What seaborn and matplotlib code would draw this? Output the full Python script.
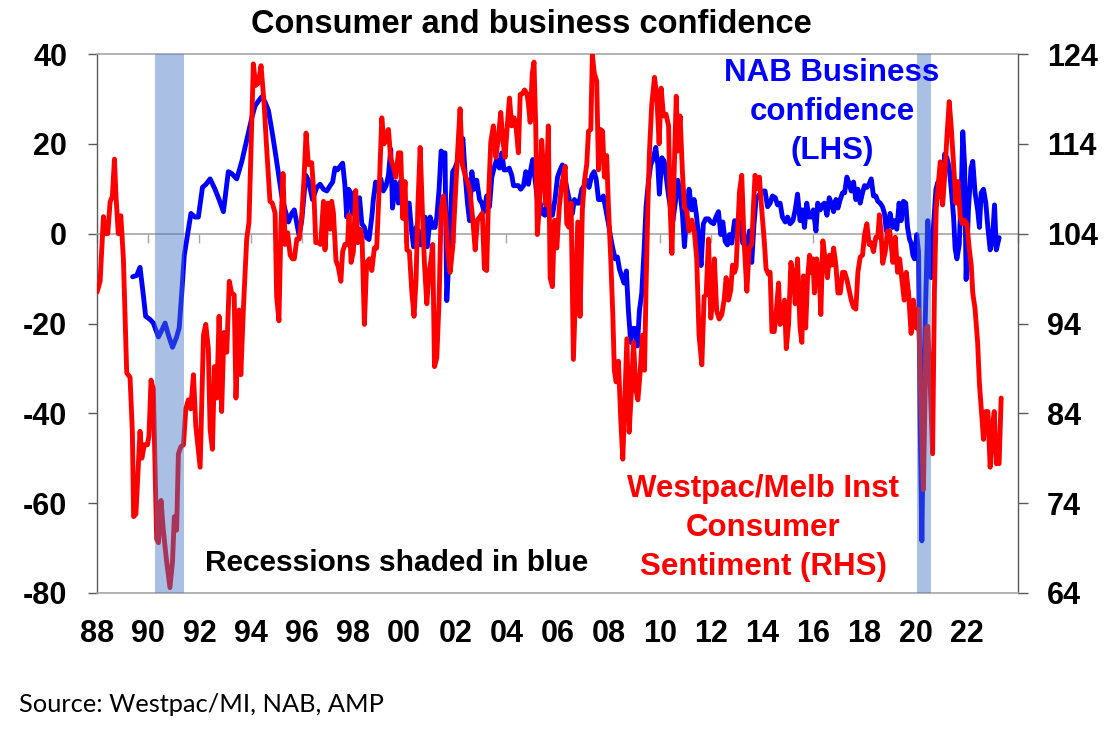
import numpy as np
import pandas as pd
import matplotlib
matplotlib.use('Agg')
import matplotlib.pyplot as plt
import seaborn as sns

# NAB business confidence, net balance (LHS)
nab_year_a = [1989.39, 1989.55, 1989.68, 1989.81, 1989.90, 1990.07, 1990.20, 1990.40, 1990.53, 1990.66,
              1990.79, 1990.95, 1991.11, 1991.21, 1991.31, 1991.41, 1991.54, 1991.67, 1991.83, 1991.96,
              1992.12, 1992.26, 1992.42, 1992.61, 1992.77, 1992.94, 1993.13, 1993.26, 1993.46, 1993.66,
              1993.85, 1994.05, 1994.18, 1994.33, 1994.44, 1994.57, 1994.70, 1994.83, 1994.96, 1995.09,
              1995.22, 1995.35, 1995.48, 1995.61, 1995.71, 1995.81, 1995.90, 1996.00, 1996.16, 1996.26,
              1996.42, 1996.59, 1996.72, 1996.85, 1996.98]
nab_conf_a = [-9.6, -9.3, -7.5, -13.7, -18.4, -19.1, -19.9, -23.0, -21.5, -19.9,
              -22.6, -25.3, -23.0, -21.0, -13.3, -4.8, -0.2, 4.5, 3.7, 3.7,
              10.3, 11.0, 12.2, 9.9, 7.6, 4.9, 13.8, 13.4, 12.2, 16.1,
              20.8, 25.8, 28.5, 29.7, 30.5, 29.3, 27.4, 23.1, 18.4, 13.4,
              8.4, 5.3, 2.6, 4.5, 5.3, 2.2, -0.5, 2.9, 13.0, 11.9,
              7.6, 10.3, 11.0, 9.9, 9.5]

nab_year_b = [1997.11, 1997.21, 1997.30, 1997.40, 1997.50, 1997.60, 1997.69, 1997.76, 1997.83, 1997.92,
              1997.99, 1998.09, 1998.18, 1998.26, 1998.35, 1998.45, 1998.54, 1998.63, 1998.74, 1998.80,
              1998.89, 1999.00, 1999.09, 1999.19, 1999.30, 1999.39, 1999.48, 1999.55, 1999.65, 1999.71,
              1999.78, 1999.88, 1999.98, 2000.08, 2000.20, 2000.28, 2000.37, 2000.47, 2000.56, 2000.65,
              2000.76, 2000.82, 2000.91, 2001.02, 2001.12, 2001.21, 2001.28, 2001.37, 2001.45, 2001.54,
              2001.60, 2001.67, 2001.74, 2001.83, 2001.90, 2001.99, 2002.09, 2002.19, 2002.30, 2002.39,
              2002.48, 2002.56, 2002.65, 2002.74, 2002.84, 2002.95, 2003.04, 2003.13, 2003.23, 2003.34,
              2003.43, 2003.52, 2003.62, 2003.73, 2003.82, 2003.91, 2004.02, 2004.11, 2004.21, 2004.28,
              2004.38, 2004.47, 2004.56, 2004.67, 2004.76, 2004.86, 2004.95, 2005.03, 2005.12, 2005.21,
              2005.32, 2005.41, 2005.51, 2005.61, 2005.71, 2005.80, 2005.90, 2006.00, 2006.10, 2006.19]
nab_conf_b = [10.7, 11.5, 14.6, 14.2, 15.0, 15.7, 10.7, 3.7, 9.9, 9.1,
              4.5, 8.4, 6.0, 8.0, 2.2, 1.4, -0.9, -1.3, 3.7, 7.6,
              11.5, 9.5, 12.2, 9.5, 10.7, 13.0, 18.8, 5.7, 11.5, 10.3,
              6.8, 11.9, 7.6, 6.8, 6.8, 1.4, -2.9, 1.4, 0.6, -2.5,
              1.4, 3.7, -2.9, 3.7, 1.4, 1.4, 3.7, 9.9, 18.4, 17.7,
              18.0, -14.9, -7.1, 6.0, 13.8, 14.6, 16.1, 18.4, 21.2, 13.0,
              6.8, 2.9, 13.8, 9.9, 11.9, 7.6, 6.8, 4.9, 8.4, 6.0,
              12.6, 14.6, 16.5, 14.6, 18.0, 14.2, 14.2, 14.6, 13.0, 10.7,
              10.7, 10.7, 9.9, 10.7, 13.8, 11.0, 14.2, 16.5, 12.2, 7.6,
              6.8, 4.5, 4.1, 7.6, 5.3, 4.1, 7.6, 12.6, 14.2, 15.3]

nab_year_c = [2006.40, 2006.49, 2006.58, 2006.66, 2006.75, 2006.84, 2006.95, 2007.05, 2007.14, 2007.23,
              2007.34, 2007.43, 2007.51, 2007.60, 2007.70, 2007.79, 2007.89, 2007.99, 2008.08, 2008.16,
              2008.25, 2008.34, 2008.42, 2008.51, 2008.60, 2008.69, 2008.77, 2008.86, 2008.94, 2009.03,
              2009.12, 2009.20, 2009.29, 2009.38, 2009.46, 2009.55, 2009.64, 2009.75, 2009.84, 2009.92,
              2009.98, 2010.08, 2010.17, 2010.24, 2010.34, 2010.43, 2010.51, 2010.60, 2010.70, 2010.79,
              2010.88, 2010.96, 2011.05, 2011.14, 2011.25, 2011.34, 2011.42, 2011.51, 2011.61, 2011.70,
              2011.79, 2011.90, 2011.99, 2012.10, 2012.19, 2012.29, 2012.38, 2012.46, 2012.55, 2012.64,
              2012.72, 2012.81, 2012.92, 2013.01, 2013.07, 2013.16, 2013.24, 2013.33, 2013.42, 2013.50,
              2013.59, 2013.68, 2013.76, 2013.85, 2013.94, 2014.02, 2014.11, 2014.21, 2014.31, 2014.40,
              2014.51, 2014.60, 2014.70, 2014.79, 2014.90, 2014.99, 2015.09, 2015.20, 2015.29, 2015.38]
nab_conf_c = [9.1, 6.8, 4.5, 7.6, 6.8, 6.8, 9.9, 10.7, 11.9, 10.3,
              13.0, 13.8, 12.2, 7.6, 7.6, 8.4, 5.3, 2.2, -0.9, -3.3,
              -5.6, -5.2, -7.9, -9.5, -11.0, -8.3, -17.2, -24.2, -21.1, -21.1,
              -25.0, -17.2, -13.3, -4.0, 6.0, 11.5, 15.3, 16.9, 19.2, 15.3,
              8.8, 16.9, 16.1, 13.0, 8.4, 5.3, 2.9, 6.8, 11.9, 9.1,
              4.5, -2.9, 4.5, 9.9, 5.3, 7.6, 4.5, -0.2, -7.1, 2.2,
              3.3, 3.3, 2.6, 2.2, 3.7, 4.9, -0.2, 2.6, -1.7, -2.5,
              -0.2, -2.1, 2.9, -0.2, 2.9, 1.4, -2.1, -0.9, -2.5, 0.6,
              -6.4, 2.2, 7.6, 8.4, 9.1, 9.5, 9.5, 6.0, 6.8, 8.4,
              8.0, 6.4, 6.8, 3.7, 2.6, 3.7, 2.2, 2.9, 5.3, 8.8]

nab_year_d = [2015.48, 2015.57, 2015.65, 2015.74, 2015.83, 2015.91, 2016.00, 2016.10, 2016.17, 2016.27,
              2016.36, 2016.43, 2016.53, 2016.62, 2016.70, 2016.79, 2016.88, 2016.96, 2017.05, 2017.14,
              2017.22, 2017.31, 2017.40, 2017.48, 2017.57, 2017.66, 2017.74, 2017.83, 2017.92, 2018.00,
              2018.09, 2018.18, 2018.26, 2018.35, 2018.44, 2018.52, 2018.61, 2018.70, 2018.78, 2018.85,
              2018.94, 2019.00, 2019.09, 2019.17, 2019.26, 2019.35, 2019.43, 2019.52, 2019.61, 2019.68,
              2019.76, 2019.82, 2019.89, 2019.95, 2020.04, 2020.11, 2020.17, 2020.24, 2020.33, 2020.41,
              2020.47, 2020.54, 2020.60, 2020.70, 2020.79, 2020.87, 2020.96, 2021.05, 2021.13, 2021.22,
              2021.31, 2021.39, 2021.48, 2021.54, 2021.61, 2021.70, 2021.78, 2021.84, 2021.91, 2021.97,
              2022.06, 2022.16, 2022.23, 2022.32, 2022.42, 2022.49, 2022.56, 2022.65, 2022.74, 2022.82,
              2022.91, 2023.00, 2023.08, 2023.15, 2023.26]
nab_conf_d = [2.9, 5.3, 1.4, 6.8, 3.7, 3.7, 5.3, 0.6, 6.8, 5.3,
              6.4, 6.8, 4.1, 8.0, 6.8, 4.9, 7.6, 5.7, 7.6, 9.1,
              9.1, 12.6, 11.1, 9.5, 11.5, 7.6, 9.9, 6.8, 9.1, 10.7,
              10.3, 11.1, 12.2, 8.4, 8.4, 7.2, 6.8, 6.0, 4.5, 0.6,
              2.2, 4.5, 1.4, 2.9, 1.0, 6.8, 2.9, 7.2, 6.8, 1.4,
              -1.3, -2.1, -4.8, -5.6, -0.2, -4.0, -40.5, -68.4, -28.8, -10.2,
              2.9, -2.5, -9.8, 2.2, 9.9, 11.5, 8.4, 7.6, 17.7, 16.9,
              14.6, 9.9, 3.7, -3.3, -5.6, -2.5, 9.1, 22.7, 15.3, -10.2,
              5.3, 14.6, 16.1, 9.1, 5.3, 1.4, 9.1, 9.9, 6.8, 1.4,
              -3.6, -1.3, 6.4, -3.6, -0.9]

# Westpac/Melbourne Institute consumer sentiment index (RHS)
wmi_year_a = [1988.00, 1988.12, 1988.25, 1988.31, 1988.42, 1988.51, 1988.60, 1988.68, 1988.74, 1988.83,
              1988.93, 1989.03, 1989.16, 1989.29, 1989.38, 1989.43, 1989.52, 1989.68, 1989.75, 1989.85,
              1989.97, 1990.03, 1990.11, 1990.20, 1990.33, 1990.40, 1990.50, 1990.59, 1990.72, 1990.85,
              1990.95, 1991.02, 1991.11, 1991.18, 1991.28, 1991.38, 1991.47, 1991.57, 1991.66, 1991.77,
              1991.86, 1992.03, 1992.16, 1992.25, 1992.35, 1992.42, 1992.51, 1992.59, 1992.68, 1992.77,
              1992.87, 1992.96, 1993.07, 1993.17, 1993.26, 1993.36, 1993.43, 1993.55, 1993.62, 1993.72,
              1993.85, 1993.94, 1994.02, 1994.11, 1994.20, 1994.31, 1994.41, 1994.53, 1994.63, 1994.76,
              1994.85, 1994.96, 1995.02, 1995.11, 1995.19, 1995.27, 1995.35, 1995.45, 1995.55, 1995.64,
              1995.71, 1995.81, 1995.90, 1996.00, 1996.09, 1996.17, 1996.26, 1996.39, 1996.48, 1996.55,
              1996.65, 1996.74, 1996.85, 1996.91, 1997.02]
wmi_index_a = [97.5, 98.7, 105.9, 104.0, 104.0, 107.5, 108.2, 112.3, 108.2, 104.0,
               106.0, 101.2, 88.5, 88.0, 82.0, 72.5, 72.8, 82.0, 79.0, 80.5,
               80.5, 81.5, 87.7, 86.7, 70.0, 69.6, 74.3, 71.0, 67.5, 64.6,
               67.5, 72.5, 71.0, 79.5, 80.3, 80.5, 84.5, 85.5, 84.5, 88.3,
               82.6, 78.0, 92.7, 93.9, 91.2, 82.2, 80.0, 89.2, 85.7, 94.8,
               84.2, 93.0, 90.8, 98.7, 97.4, 97.2, 85.7, 95.5, 88.3, 95.6,
               103.4, 105.3, 113.5, 122.9, 120.5, 120.8, 122.7, 118.5, 113.5, 107.6,
               107.4, 106.3, 97.0, 94.3, 105.1, 110.7, 102.8, 104.1, 101.6, 101.2,
               101.2, 103.4, 103.4, 105.9, 110.1, 115.2, 111.7, 111.9, 108.2, 103.0,
               103.0, 102.8, 107.6, 102.2, 107.4]

wmi_year_b = [1997.11, 1997.17, 1997.24, 1997.34, 1997.43, 1997.53, 1997.60, 1997.69, 1997.79, 1997.85,
              1997.93, 1998.02, 1998.11, 1998.19, 1998.28, 1998.36, 1998.45, 1998.54, 1998.65, 1998.74,
              1998.84, 1998.93, 1999.04, 1999.13, 1999.22, 1999.30, 1999.39, 1999.48, 1999.58, 1999.68,
              1999.78, 1999.87, 1999.95, 2000.04, 2000.11, 2000.21, 2000.30, 2000.39, 2000.47, 2000.54,
              2000.63, 2000.72, 2000.80, 2000.89, 2000.98, 2001.06, 2001.12, 2001.19, 2001.28, 2001.37,
              2001.45, 2001.54, 2001.63, 2001.71, 2001.80, 2001.90, 2001.99, 2002.09, 2002.19, 2002.28,
              2002.39, 2002.48, 2002.58, 2002.69, 2002.78, 2002.87, 2002.97, 2003.06, 2003.14, 2003.23,
              2003.30, 2003.39, 2003.49, 2003.59, 2003.69, 2003.78, 2003.86, 2003.95, 2004.04, 2004.12,
              2004.21, 2004.30, 2004.38, 2004.47, 2004.54, 2004.63, 2004.71, 2004.80, 2004.86, 2004.93,
              2005.01, 2005.08, 2005.15, 2005.21, 2005.29, 2005.38, 2005.45, 2005.54, 2005.64, 2005.71,
              2005.80, 2005.88, 2005.97, 2006.07, 2006.16]
wmi_index_b = [104.5, 107.6, 106.3, 101.0, 100.3, 98.7, 102.0, 102.8, 102.8, 106.1,
               100.8, 102.0, 108.8, 103.0, 104.5, 103.4, 93.9, 100.8, 101.2, 99.9,
               102.4, 102.4, 109.8, 116.9, 114.0, 115.0, 115.6, 112.3, 111.5, 110.3,
               113.0, 113.0, 105.7, 109.8, 102.2, 102.0, 97.7, 94.8, 98.9, 107.0,
               113.6, 106.3, 100.5, 96.2, 99.7, 101.2, 102.8, 89.2, 90.2, 96.6,
               106.7, 108.2, 105.9, 102.0, 99.7, 102.4, 107.4, 112.9, 117.9, 111.7,
               110.5, 109.8, 108.6, 105.5, 102.2, 105.5, 105.9, 106.3, 100.1, 99.9,
               107.8, 114.2, 116.0, 112.5, 114.8, 117.5, 114.4, 112.5, 116.2, 119.1,
               116.0, 116.9, 115.8, 113.0, 119.5, 119.6, 120.0, 119.6, 118.5, 116.4,
               121.8, 123.1, 115.6, 103.9, 107.0, 114.4, 110.9, 107.2, 116.0, 99.1,
               98.1, 105.5, 102.4, 107.0, 109.4]

wmi_year_c = [2006.30, 2006.36, 2006.45, 2006.53, 2006.62, 2006.71, 2006.79, 2006.88, 2006.97, 2007.05,
              2007.14, 2007.21, 2007.30, 2007.36, 2007.44, 2007.53, 2007.60, 2007.68, 2007.76, 2007.83,
              2007.92, 2007.99, 2008.08, 2008.16, 2008.22, 2008.29, 2008.38, 2008.47, 2008.55, 2008.64,
              2008.71, 2008.80, 2008.88, 2008.97, 2009.06, 2009.14, 2009.23, 2009.32, 2009.40, 2009.46,
              2009.53, 2009.59, 2009.68, 2009.79, 2009.88, 2009.97, 2010.05, 2010.14, 2010.24, 2010.34,
              2010.40, 2010.47, 2010.56, 2010.64, 2010.70, 2010.79, 2010.88, 2010.96, 2011.05, 2011.14,
              2011.25, 2011.35, 2011.44, 2011.53, 2011.64, 2011.73, 2011.81, 2011.90, 2011.99, 2012.07,
              2012.13, 2012.22, 2012.32, 2012.42, 2012.51, 2012.59, 2012.68, 2012.77, 2012.84, 2012.92,
              2012.98, 2013.05, 2013.11, 2013.20, 2013.29, 2013.40, 2013.49, 2013.59, 2013.66, 2013.72,
              2013.81, 2013.89, 2013.98, 2014.08, 2014.15, 2014.24, 2014.31, 2014.38, 2014.47, 2014.54,
              2014.64, 2014.70, 2014.79, 2014.87, 2014.94, 2015.03, 2015.12, 2015.22, 2015.29, 2015.38]
wmi_index_c = [111.5, 105.1, 104.7, 107.4, 90.0, 98.1, 105.3, 94.8, 106.7, 109.8,
               111.7, 115.4, 115.6, 123.9, 121.8, 121.0, 111.1, 115.6, 115.4, 110.3,
               112.7, 107.0, 101.2, 95.0, 88.8, 87.5, 89.8, 83.4, 78.9, 86.5,
               92.3, 81.9, 86.1, 91.9, 86.7, 85.5, 88.6, 92.7, 88.8, 98.1,
               107.0, 112.9, 118.3, 121.4, 119.3, 114.0, 120.2, 117.1, 117.3, 116.0,
               107.0, 101.8, 111.1, 119.3, 113.2, 117.1, 110.9, 106.9, 106.5, 104.3,
               105.5, 104.1, 101.2, 92.7, 89.4, 97.0, 97.2, 103.4, 94.6, 97.0,
               101.2, 95.4, 94.5, 95.0, 96.6, 99.1, 96.6, 97.7, 100.5, 99.7,
               100.3, 104.7, 108.6, 110.5, 103.2, 97.6, 102.4, 102.8, 107.2, 110.5,
               109.0, 110.3, 106.7, 103.2, 100.1, 99.5, 99.7, 93.1, 93.1, 95.0,
               98.5, 93.9, 94.3, 96.6, 91.2, 93.9, 100.8, 99.3, 96.2, 101.2]

wmi_year_d = [2015.48, 2015.55, 2015.61, 2015.70, 2015.77, 2015.85, 2015.91, 2015.98, 2016.04, 2016.13,
              2016.23, 2016.29, 2016.37, 2016.46, 2016.55, 2016.63, 2016.72, 2016.79, 2016.88, 2016.96,
              2017.05, 2017.14, 2017.22, 2017.31, 2017.40, 2017.48, 2017.57, 2017.66, 2017.74, 2017.83,
              2017.92, 2018.00, 2018.09, 2018.18, 2018.26, 2018.35, 2018.44, 2018.52, 2018.58, 2018.65,
              2018.71, 2018.81, 2018.90, 2018.98, 2019.04, 2019.11, 2019.20, 2019.29, 2019.37, 2019.46,
              2019.55, 2019.63, 2019.72, 2019.82, 2019.91, 2020.02, 2020.11, 2020.20, 2020.30, 2020.41,
              2020.47, 2020.57, 2020.66, 2020.73, 2020.80, 2020.89, 2020.96, 2021.05, 2021.13, 2021.22,
              2021.31, 2021.39, 2021.48, 2021.57, 2021.65, 2021.74, 2021.83, 2021.91, 2022.00, 2022.09,
              2022.17, 2022.23, 2022.32, 2022.42, 2022.49, 2022.58, 2022.65, 2022.74, 2022.82, 2022.91,
              2023.00, 2023.07, 2023.15, 2023.26, 2023.34]
wmi_index_d = [93.5, 91.9, 99.3, 93.5, 98.9, 101.6, 99.7, 101.2, 97.4, 101.2,
               99.3, 95.0, 103.2, 101.2, 99.1, 101.6, 100.5, 102.4, 100.5, 97.4,
               97.4, 99.7, 99.7, 98.9, 97.7, 96.6, 95.8, 95.6, 99.7, 101.4,
               101.6, 103.9, 105.1, 102.8, 103.0, 102.0, 103.6, 103.6, 106.1, 103.9,
               100.7, 102.0, 104.3, 104.3, 102.8, 100.8, 103.6, 99.7, 101.2, 98.9,
               96.6, 99.7, 97.4, 92.9, 96.6, 93.5, 95.6, 85.7, 75.5, 93.5,
               93.7, 86.9, 79.5, 97.4, 106.7, 109.8, 112.0, 107.2, 110.3, 114.8,
               118.7, 115.8, 111.7, 107.4, 109.8, 105.9, 105.1, 105.5, 105.1, 102.4,
               100.5, 97.4, 95.6, 91.9, 87.3, 83.8, 81.1, 84.2, 84.2, 78.0,
               82.6, 84.2, 78.4, 78.4, 85.7]

# recessions (shaded)
rec_start = [1990.27, 2020.06]
rec_end = [1991.40, 2020.60]

tick_years = [1988, 1990, 1992, 1994, 1996, 1998, 2000, 2002, 2004, 2006,
              2008, 2010, 2012, 2014, 2016, 2018, 2020, 2022, 2024]
tick_labels = ['88', '90', '92', '94', '96', '98', '00', '02', '04', '06',
               '08', '10', '12', '14', '16', '18', '20', '22', '']

nab = pd.DataFrame({'year': nab_year_a + nab_year_b + nab_year_c + nab_year_d,
                    'conf': nab_conf_a + nab_conf_b + nab_conf_c + nab_conf_d})
wmi = pd.DataFrame({'year': wmi_year_a + wmi_year_b + wmi_year_c + wmi_year_d,
                    'index': wmi_index_a + wmi_index_b + wmi_index_c + wmi_index_d})

sns.set_theme(style='white')
plt.rcParams['font.family'] = ['Liberation Sans', 'DejaVu Sans']
plt.rcParams['font.weight'] = 'bold'
plt.rcParams['axes.unicode_minus'] = False

fig = plt.figure(figsize=(11.18, 7.46), dpi=100)
ax = fig.add_axes([0.0868, 0.2051, 0.8238, 0.7225])
ax2 = ax.twinx()

sns.lineplot(data=nab, x='year', y='conf', ax=ax, color='#0000FF', linewidth=3.5,
             estimator=None, zorder=3)
sns.lineplot(data=wmi, x='year', y='index', ax=ax2, color='#FF0000', linewidth=3.5,
             estimator=None, zorder=3)

for s, e in zip(rec_start, rec_end):
    ax2.axvspan(s, e, color='#4472C4', alpha=0.45, lw=0, zorder=5)

ax.set_xlim(1988, 2024)
ax.set_ylim(-80, 40)
ax2.set_ylim(64, 124)
ax.set_yticks(np.arange(-80, 41, 20))
ax2.set_yticks(np.arange(64, 125, 10))
ax.set_xticks(tick_years, labels=tick_labels)
ax.set_xlabel('')
ax.set_ylabel('')
ax2.set_xlabel('')
ax2.set_ylabel('')

grey = '#A6A6A6'
dark = '#595959'
# category axis crosses at zero, labels sit at the bottom
ax.spines['bottom'].set_position(('data', 0))
ax.spines['bottom'].set_color(grey)
ax.spines['bottom'].set_linewidth(1.2)
ax.spines['top'].set_color(grey)
ax.spines['top'].set_linewidth(1.2)
ax.spines['right'].set_visible(False)
ax.spines['left'].set_color(dark)
ax.spines['left'].set_linewidth(1.0)
ax2.spines['left'].set_visible(False)
ax2.spines['top'].set_visible(False)
ax2.spines['right'].set_color(dark)
ax2.spines['right'].set_linewidth(1.0)
ax2.spines['bottom'].set_color(grey)
ax2.spines['bottom'].set_linewidth(1.2)
ax2.xaxis.set_visible(True)

ax.tick_params(axis='x', bottom=True, labelbottom=False, direction='out',
               length=6.5, width=1, color=grey)
ax2.tick_params(axis='x', bottom=True, labelbottom=True, length=0, pad=19,
                labelsize=22, labelcolor='black')
ax.tick_params(axis='y', left=True, direction='out', length=6.5, width=1,
               color=dark, labelsize=22, labelcolor='black', pad=15)
ax2.tick_params(axis='y', right=True, direction='out', length=7, width=1,
                color=dark, labelsize=22, labelcolor='black', pad=14)

fig.text(0.475, 0.9665, 'Consumer and business confidence', ha='center', va='center',
         fontsize=23.5, color='black')
fig.text(0.7442, 0.8499, 'NAB Business\nconfidence\n(LHS)', ha='center', va='center',
         fontsize=22.5, color='#0000FF', linespacing=1.38)
fig.text(0.6825, 0.2922, 'Westpac/Melb Inst\nConsumer\nSentiment (RHS)', ha='center',
         va='center', fontsize=22.5, color='#FF0000', linespacing=1.38)
fig.text(0.3547, 0.2453, 'Recessions shaded in blue', ha='center', va='center',
         fontsize=21.5, color='black')
fig.text(0.017, 0.055, 'Source: Westpac/MI, NAB, AMP', ha='left', va='center',
         fontsize=18.3, fontweight='normal', color='black', family=['Lato', 'DejaVu Sans'])

fig.savefig('out.png', dpi=100)
